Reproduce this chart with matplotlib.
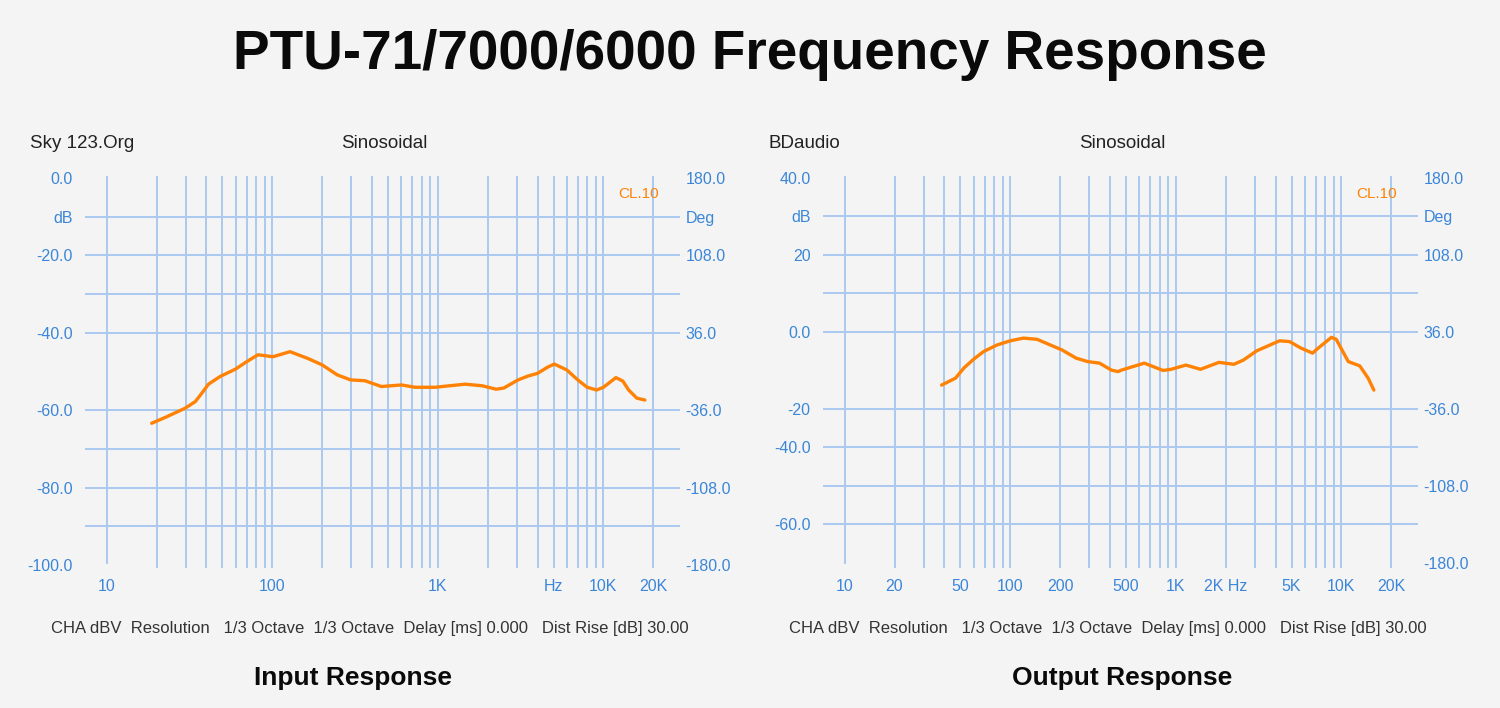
import matplotlib
matplotlib.use("Agg")
import matplotlib.pyplot as plt

# input response
in_freq = [18.7, 23.1, 29.8, 34.3, 37.6, 41.2, 48.5, 60, 70, 82, 101, 128, 163, 200,
           247, 298, 362, 456, 603, 730, 960, 1460, 1850, 2250, 2500, 3050, 3500,
           4000, 4600, 5050, 6000, 7000, 7980, 9100, 10000, 11900, 13100, 14200,
           15900, 17800]
in_db = [-63.4, -61.7, -59.5, -57.8, -55.6, -53.3, -51.3, -49.4, -47.5, -45.7, -46.2,
         -44.9, -46.6, -48.3, -50.9, -52.2, -52.4, -53.9, -53.5, -54.1, -54.1, -53.3,
         -53.7, -54.6, -54.3, -52.2, -51.2, -50.5, -48.9, -48.1, -49.6, -52.2, -54.1,
         -54.8, -54.1, -51.6, -52.5, -54.8, -56.9, -57.4]

# output response (right panel)
out_freq = [38.5, 46.7, 52.4, 60, 69, 83, 100, 120, 145, 175, 206, 250, 294, 346, 408,
            448, 470, 645, 837, 937, 1150, 1410, 1820, 2240, 2560, 3080, 4230, 4860,
            5700, 6700, 7100, 8700, 9300, 11000, 12900, 14500, 15700]
out_db = [-13.8, -12.0, -9.4, -7.1, -5.1, -3.4, -2.3, -1.6, -1.9, -3.4, -4.7, -6.8, -7.7,
          -8.1, -9.9, -10.3, -9.9, -8.1, -10.0, -9.7, -8.6, -9.7, -7.9, -8.4, -7.3, -4.9,
          -2.3, -2.5, -4.2, -5.5, -4.5, -1.4, -1.9, -7.7, -8.8, -12.0, -15.1]

in_yticks = [0, -10, -20, -40, -60, -80, -100]
in_ylabels = ["0.0", "dB", "-20.0", "-40.0", "-60.0", "-80.0", "-100.0"]
in_hlines = [-10, -20, -30, -40, -60, -70, -80, -90]
in_degticks = [0, -10, -20, -40, -60, -80, -100]
in_xticks = [10, 100, 1000, 5000, 10000, 20000]
in_xlabels = ["10", "100", "1K", "Hz", "10K", "20K"]

out_yticks = [40, 30, 20, 0, -20, -30, -50]
out_ylabels = ["40.0", "dB", "20", "0.0", "-20", "-40.0", "-60.0"]
out_hlines = [30, 20, 10, 0, -20, -30, -40, -50]
out_degticks = [40, 30, 20, 0, -20, -40, -60]
out_xticks = [10, 20, 50, 100, 200, 500, 1000, 2000, 5000, 10000, 20000]
out_xlabels = ["10", "20", "50", "100", "200", "500", "1K", "2K Hz", "5K", "10K", "20K"]

deg_labels = ["180.0", "Deg", "108.0", "36.0", "-36.0", "-108.0", "-180.0"]
footer = "CHA dBV  Resolution   1/3 Octave  1/3 Octave  Delay [ms] 0.000   Dist Rise [dB] 30.00"

BG = "#f4f4f4"
GRID = "#abc8ef"
BLUE = "#3b86d8"
ORANGE = "#ff8205"
W, H = 1500, 708

plt.rcParams["font.family"] = ["Liberation Sans", "DejaVu Sans"]

fig = plt.figure(figsize=(15, 7.08), dpi=100, facecolor=BG)


def px(x, y):
    return x / W, 1 - y / H


def panel(x0, freq, db, ylim, hlines, yticks, ylabels, degticks, xticks, xlabels,
          brand, footer_x):
    ax = fig.add_axes([x0 / W, 1 - 568 / H, 595 / W, 392 / H])
    ax.set_facecolor("none")
    ax.set_xscale("log")
    ax.set_xlim(7.4, 29000)
    ax.set_ylim(*ylim)
    for s in ax.spines.values():
        s.set_visible(False)
    grid_f = [m * 10 ** e for e in (1, 2, 3) for m in range(1, 10)] + [10000, 20000]
    for f in grid_f:
        ax.axvline(f, ymin=0.013 if f == 10 else 0, color=GRID, lw=1.4, zorder=1)
    for h in hlines:
        ax.axhline(h, color=GRID, lw=1.4, zorder=1)
    ax.plot(freq, db, color=ORANGE, lw=2.4, zorder=3, solid_capstyle="round",
            solid_joinstyle="round")

    ax.set_xticks(xticks)
    ax.set_xticklabels(xlabels)
    ax.xaxis.set_minor_locator(matplotlib.ticker.NullLocator())
    ax.set_yticks(yticks)
    ax.set_yticklabels(ylabels)
    ax.tick_params(length=0, labelsize=11.5, labelcolor=BLUE)
    ax.tick_params(axis="y", pad=9)
    ax.tick_params(axis="x", pad=8)

    ax2 = ax.twinx()
    ax2.set_ylim(*ylim)
    for s in ax2.spines.values():
        s.set_visible(False)
    ax2.set_yticks(degticks)
    ax2.set_yticklabels(deg_labels)
    ax2.tick_params(length=0, labelsize=11.5, labelcolor=BLUE, pad=4)

    ax.text(0.965, 0.955, "CL.10", transform=ax.transAxes, color=ORANGE,
            fontsize=11, ha="right", va="center")

    fig.text(*px(x0 - 55, 143), brand, fontsize=13.5, color="#222222",
             ha="left", va="center")
    fig.text(*px(x0 + 299, 143), "Sinosoidal", fontsize=13.5, color="#222222",
             ha="center", va="center")
    fig.text(*px(footer_x, 628), footer, fontsize=12, color="#333333",
             ha="center", va="center")
    return ax


panel(85, in_freq, in_db, (-100.8, 0.5), in_hlines, in_yticks, in_ylabels,
      in_degticks, in_xticks, in_xlabels, "Sky 123.Org", 370)
panel(823, out_freq, out_db, (-61.3, 40.5), out_hlines, out_yticks, out_ylabels,
      out_degticks, out_xticks, out_xlabels, "BDaudio", 1108)

fig.text(*px(750, 55), "PTU-71/7000/6000 Frequency Response", fontsize=39.5,
         fontweight="bold", color="#0a0a0a", ha="center", va="center")
fig.text(*px(353, 678), "Input Response", fontsize=19, fontweight="bold",
         color="#0a0a0a", ha="center", va="center")
fig.text(*px(1122, 678), "Output Response", fontsize=19, fontweight="bold",
         color="#0a0a0a", ha="center", va="center")

fig.savefig("out.png", dpi=100, facecolor=BG)
